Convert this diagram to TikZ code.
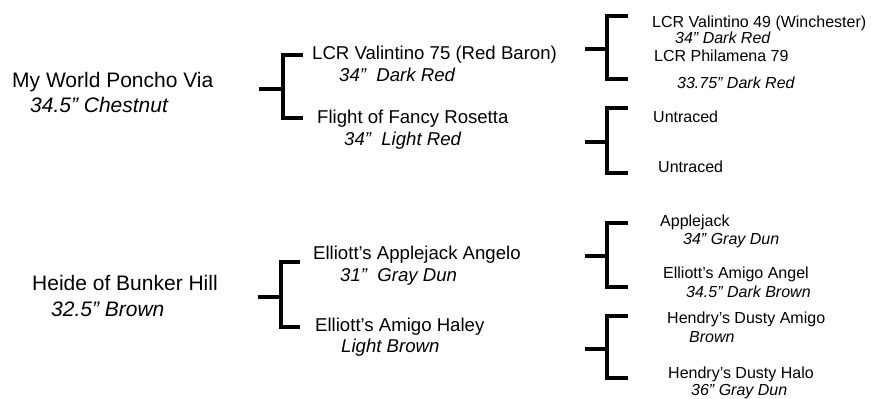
\documentclass[tikz,border=0pt]{standalone}
\usepackage{fontspec}
\setmainfont{Liberation Sans}
\begin{document}
\begin{tikzpicture}[x=1pt,y=1pt,
  txt/.style={inner sep=0pt,anchor=base west,text=black},
  big/.style={txt,font=\fontsize{21}{25}\selectfont},
  bigi/.style={txt,font=\fontsize{21}{25}\selectfont\itshape},
  mid/.style={txt,font=\fontsize{18.6}{22}\selectfont},
  midi/.style={txt,font=\fontsize{18.6}{22}\selectfont\itshape},
  sml/.style={txt,font=\fontsize{16}{19}\selectfont},
  smli/.style={txt,font=\fontsize{16}{19}\selectfont\itshape},
  brk/.style={line width=4pt,line cap=butt,line join=miter,draw=black}]
\useasboundingbox (0,0) rectangle (871,-399);
% left column
\node[big]  (n1)  at (12,-87)  {My World Poncho Via};
\node[bigi] (n1d) at (30,-112) {34.5” Chestnut};
\node[big]  (n2)  at (32,-290) {Heide of Bunker Hill};
\node[bigi] (n2d) at (51,-316) {32.5” Brown};
% middle column
\node[mid]  (m1)  at (312,-59)  {LCR Valintino 75 (Red Baron)};
\node[midi] (m1d) at (339,-81)  {34”\ \ Dark Red};
\node[mid]  (m2)  at (317,-123) {Flight of Fancy Rosetta};
\node[midi] (m2d) at (344,-145) {34”\ \ Light Red};
\node[mid]  (m3)  at (313,-259) {Elliott’s Applejack Angelo};
\node[midi] (m3d) at (340,-281) {31”\ \ Gray Dun};
\node[mid]  (m4)  at (315,-331) {Elliott’s Amigo Haley};
\node[midi] (m4d) at (341,-352) {Light Brown};
% right column
\node[sml]  (r1)  at (652,-27)  {LCR Valintino 49 (Winchester)};
\node[smli] (r1d) at (675,-43)  {34” Dark Red};
\node[sml]  (r2)  at (654,-61)  {LCR Philamena 79};
\node[smli] (r2d) at (677,-88)  {33.75” Dark Red};
\node[sml]  (r3)  at (653,-122) {Untraced};
\node[sml]  (r4)  at (658,-172) {Untraced};
\node[sml]  (r5)  at (660,-226) {Applejack};
\node[smli] (r5d) at (683,-244) {34” Gray Dun};
\node[sml]  (r6)  at (663,-278) {Elliott’s Amigo Angel};
\node[smli] (r6d) at (686,-297) {34.5” Dark Brown};
\node[sml]  (r7)  at (667,-323) {Hendry’s Dusty Amigo};
\node[smli] (r7d) at (689,-342) {Brown};
\node[sml]  (r8)  at (668,-378) {Hendry’s Dusty Halo};
\node[smli] (r8d) at (691,-395) {36” Gray Dun};
% brackets
\foreach \nm/\sx/\vx/\ax/\ty/\sy/\by in {
  b1/259/283/303/55/89/118,
  b2/258/281/300/262/297/327,
  b3/585/607/628/16/49/79,
  b4/585/607/628/108/142/173,
  b5/585/607/628/223/256/287,
  b6/585/607/628/316/349/378}{
  \coordinate (\nm s) at (\sx,-\sy);
  \coordinate (\nm m) at (\vx,-\sy);
  \coordinate (\nm t) at (\ax,-\ty);
  \coordinate (\nm b) at (\ax,-\by);
  \draw[brk] (\nm t) -| (\nm m) |- (\nm b);
  \draw[brk,line width=3.5pt] (\nm s) -- (\nm m);
}
\end{tikzpicture}
\end{document}
